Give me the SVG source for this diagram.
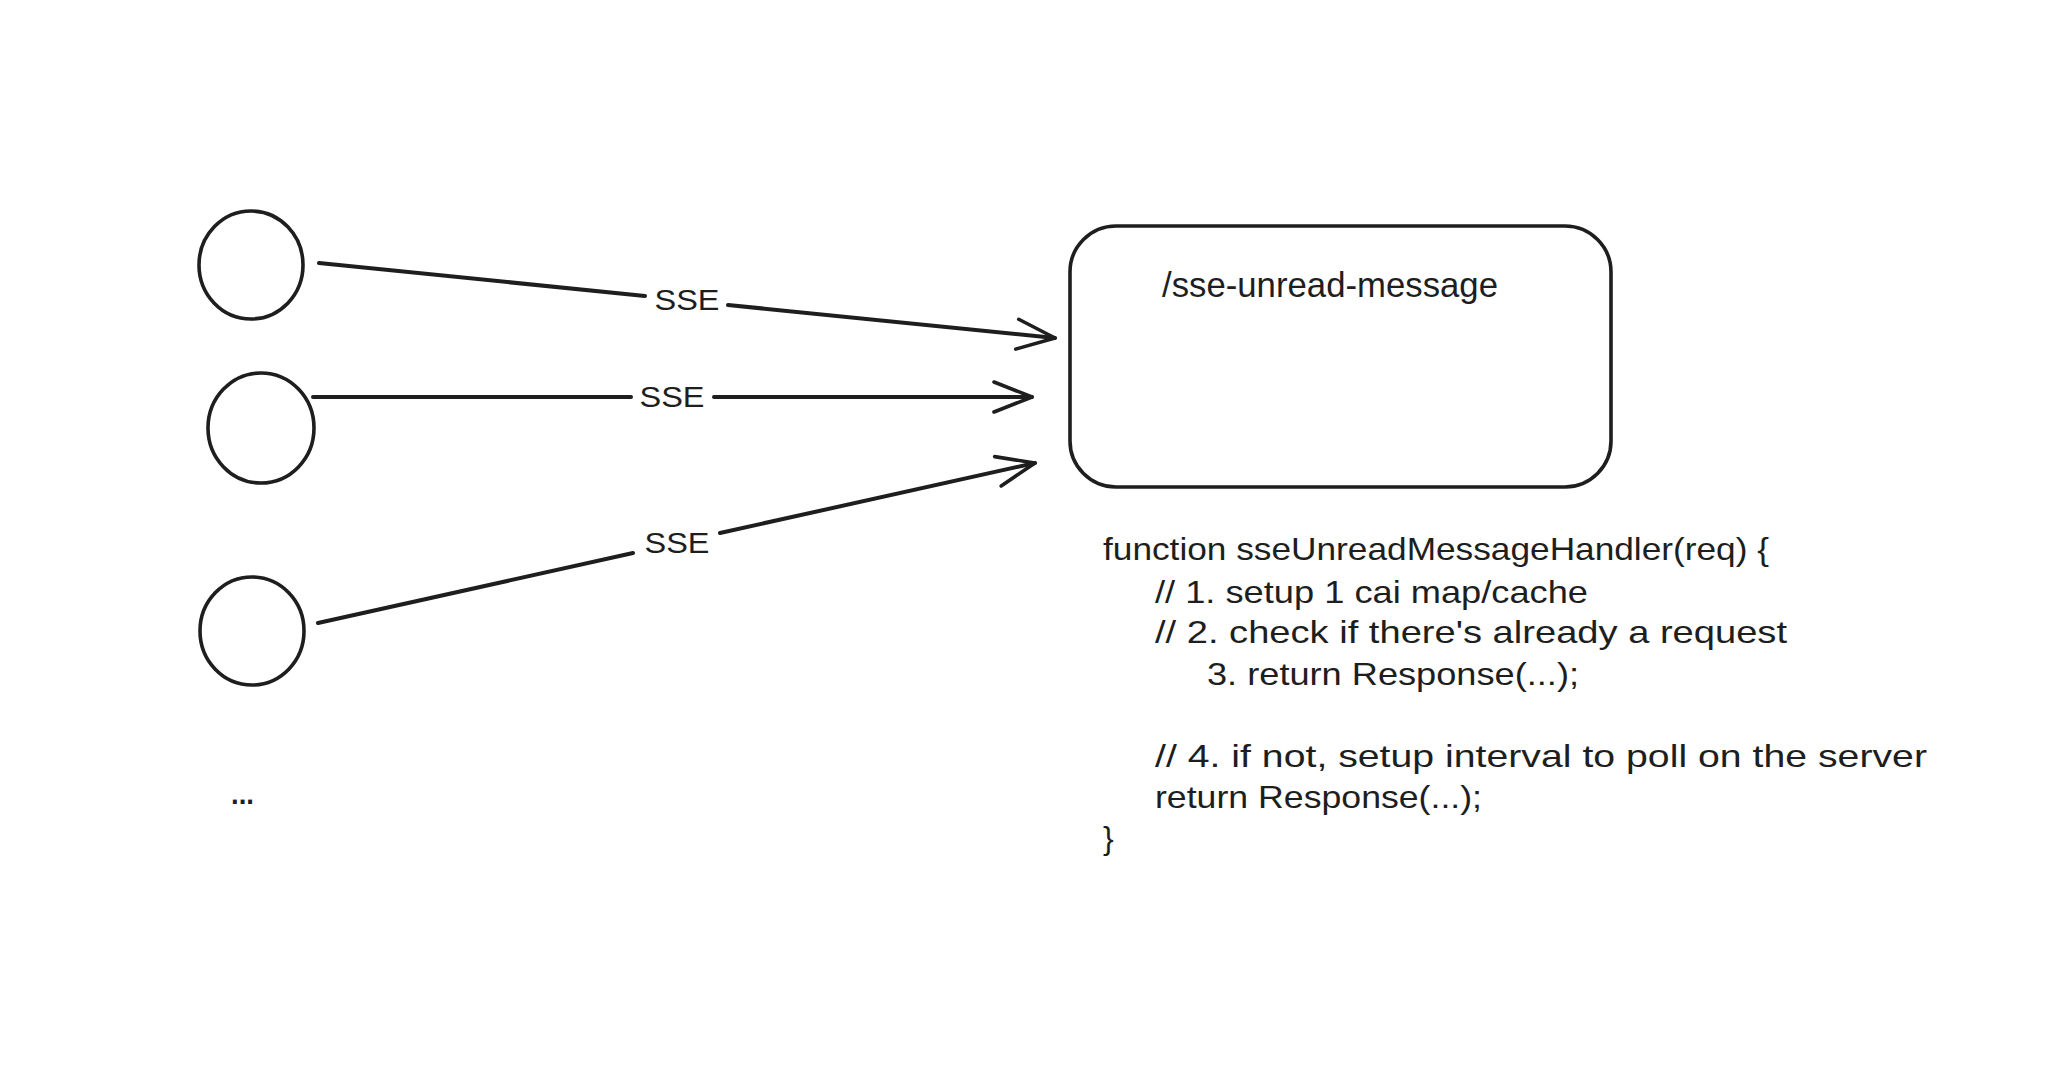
<svg xmlns="http://www.w3.org/2000/svg" width="2048" height="1082" viewBox="0 0 2048 1082">
<style>
.node{fill:none;stroke:#1e1e1e;stroke-width:3.6;stroke-linecap:round;stroke-linejoin:round}
.edge{fill:none;stroke:#1e1e1e;stroke-width:4;stroke-linecap:round}
.lbl{font-family:"Liberation Sans",Arial,sans-serif;font-size:29px;fill:#1e1e1e;text-anchor:middle}
.txt{font-family:"Liberation Sans",Arial,sans-serif;fill:#1e1e1e}
</style>
<defs>
<marker id="arr" markerUnits="userSpaceOnUse" viewBox="-42 -20 46 40" refX="0" refY="0" markerWidth="46" markerHeight="40" orient="auto">
<path d="M-38,-15 L0,0 L-38,15" fill="none" stroke="#1e1e1e" stroke-width="3.6" stroke-linecap="round" stroke-linejoin="round"/>
</marker>
</defs>
<rect width="2048" height="1082" fill="#ffffff"/>
<g id="client1"><ellipse class="node" cx="251" cy="265" rx="52" ry="54"/></g>
<g id="client2"><ellipse class="node" cx="261" cy="428" rx="53" ry="55"/></g>
<g id="client3"><ellipse class="node" cx="252" cy="631" rx="52" ry="54"/></g>
<g id="more"><text class="txt" x="231" y="804" font-size="30" font-weight="bold" textLength="23" lengthAdjust="spacingAndGlyphs">...</text></g>
<g id="server">
<rect class="node" x="1070" y="226" width="541" height="261" rx="46" ry="46"/>
<text class="txt" x="1162" y="297" font-size="35" textLength="336" lengthAdjust="spacingAndGlyphs">/sse-unread-message</text>
</g>
<g id="code" class="txt" font-size="32">
<text x="1103" y="560" textLength="666" lengthAdjust="spacingAndGlyphs">function sseUnreadMessageHandler(req) {</text>
<text x="1155" y="603" textLength="433" lengthAdjust="spacingAndGlyphs">// 1. setup 1 cai map/cache</text>
<text x="1155" y="643" textLength="632" lengthAdjust="spacingAndGlyphs">// 2. check if there's already a request</text>
<text x="1207" y="685" textLength="372" lengthAdjust="spacingAndGlyphs">3. return Response(...);</text>
<text x="1155" y="767" textLength="772" lengthAdjust="spacingAndGlyphs">// 4. if not, setup interval to poll on the server</text>
<text x="1155" y="808" textLength="327" lengthAdjust="spacingAndGlyphs">return Response(...);</text>
<text x="1103" y="849">}</text>
</g>
<g id="connectors">
<path class="edge" d="M319,263 L645,296"/>
<path class="edge" d="M728,305 L1055,338" marker-end="url(#arr)"/>
<text class="lbl" x="687" y="310" textLength="65" lengthAdjust="spacingAndGlyphs">SSE</text>
<path class="edge" d="M313,397 L631,397"/>
<path class="edge" d="M714,397 L1032,397" marker-end="url(#arr)"/>
<text class="lbl" x="672" y="407" textLength="65" lengthAdjust="spacingAndGlyphs">SSE</text>
<path class="edge" d="M318,623 L633,553"/>
<path class="edge" d="M720,533 L1035,463" marker-end="url(#arr)"/>
<text class="lbl" x="677" y="553" textLength="65" lengthAdjust="spacingAndGlyphs">SSE</text>
</g>
</svg>
